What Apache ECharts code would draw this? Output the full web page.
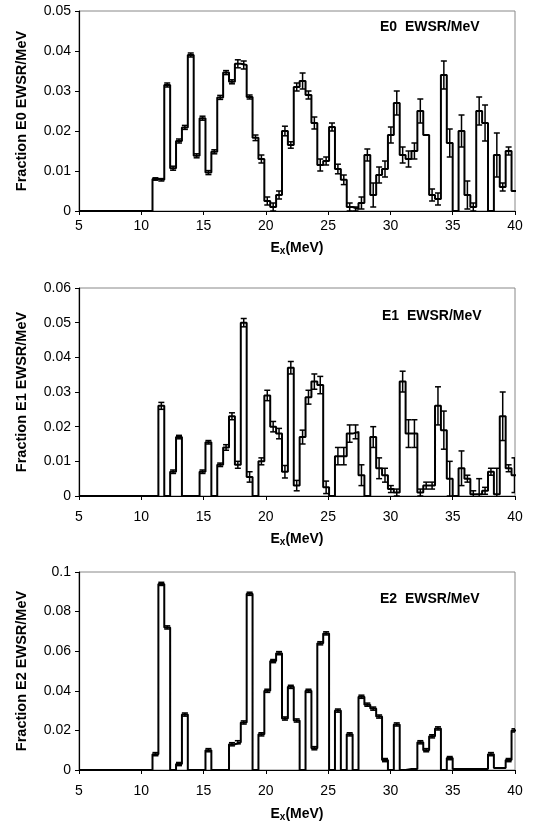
<!DOCTYPE html>
<html><head><meta charset="utf-8">
<script src="https://cdn.jsdelivr.net/npm/echarts/dist/echarts.min.js"></script>
<style>html,body{margin:0;padding:0;background:#fff;}#c{width:535px;height:827px;}</style>
</head><body><div id="c"></div>
<script>
// ---- data ----
const binStart = 10.9;      // MeV, lower edge of first bin
const binWidth = 0.4725;    // MeV
const xTicks = [5, 10, 15, 20, 25, 30, 35, 40];

const e0Values = [0.008,0.0078,0.0315,0.0107,0.0175,0.0209,0.039,0.0138,0.0232,0.0096,
  0.0148,0.0284,0.0346,0.0323,0.0368,0.0365,0.0285,0.0183,0.013,0.0025,
  0.001,0.004,0.020,0.0165,0.031,0.0325,0.029,0.022,0.0115,0.0125,
  0.021,0.0105,0.0078,0.001,0.0005,0.002,0.014,0.004,0.009,0.0105,
  0.019,0.027,0.014,0.013,0.015,0.025,0.019,0.004,0.003,0.034,
  0.017,0,0.020,0.004,0.001,0.025,0.022,0,0.014,0.006,0.015,0.005];
const e0Errors = [0.0003,0.0003,0.0005,0.0005,0.0005,0.0005,0.0005,0.0005,0.0005,0.0005,
  0.0005,0.0005,0.0005,0.0005,0.001,0.001,0.0005,0.0007,0.001,0.001,
  0.001,0.001,0.0012,0.0008,0.001,0.002,0.001,0.0015,0.0015,0.001,
  0.001,0.0012,0.0012,0.001,0.0005,0.0015,0.0015,0.003,0.002,0.002,
  0.002,0.003,0.002,0.002,0.002,0.003,0,0.0015,0.0015,0.0035,
  0.0035,0,0.004,0.0035,0.001,0.0035,0.0045,0,0.0055,0.001,0.001,0];

const e1Values = [0,0.026,0,0.007,0.017,0,0,0,0.007,0.0155,
  0,0.009,0.014,0.023,0.009,0.050,0.0055,0,0.010,0.029,
  0.020,0.018,0.007,0.037,0.003,0.017,0.0285,0.033,0.032,0.0025,
  0,0.0115,0.0115,0.018,0.0185,0.006,0,0.017,0.008,0.006,
  0.002,0.001,0.033,0.018,0.018,0.001,0.003,0.003,0.026,0.019,
  0.005,0,0.008,0.005,0.0005,0.0005,0.0015,0.007,0.0005,0.023,0.008,0.006];
const e1Errors = [0,0.001,0,0.0005,0.0005,0,0,0,0.0005,0.0005,
  0,0.0005,0.0008,0.001,0.001,0.0012,0.0015,0,0.001,0.0015,
  0.0015,0.0015,0.0018,0.0018,0.0015,0.002,0.002,0.0022,0.0025,0.0018,
  0,0.0025,0.0025,0.0025,0.002,0.003,0,0.003,0.003,0.002,
  0.001,0.001,0.003,0.004,0.004,0.001,0.001,0.001,0.0055,0.0055,
  0.005,0,0.005,0.001,0.001,0.0045,0.001,0.001,0.0075,0.007,0.001,0.005];

const e2Values = [0.008,0.094,0.072,0,0.003,0.028,0,0,0,0.010,
  0,0,0,0.013,0.014,0.024,0.089,0,0.018,0.040,
  0.055,0.059,0.026,0.042,0.025,0,0.040,0.011,0.064,0.069,
  0,0.030,0,0.018,0,0.037,0.033,0.031,0.027,0.005,
  0,0.023,0,0.0005,0.0005,0.014,0.010,0.017,0.021,0,
  0.006,0.0005,0.0005,0.0005,0.0005,0.0005,0.0005,0.008,0.001,0.001,0.005,0.020];
const e2Errors = e2Values.map(v => v > 0.002 ? 0.0008 : 0);

const panelLabels = ['E0  EWSR/MeV', 'E1  EWSR/MeV', 'E2  EWSR/MeV'];
const yTitles = ['Fraction E0 EWSR/MeV', 'Fraction E1 EWSR/MeV', 'Fraction E2 EWSR/MeV'];
const yMax = [0.05, 0.06, 0.1];
const yStep = [0.01, 0.01, 0.02];

// ---- layout ----
const grids = [
  {left: 79, top: 11, width: 436, height: 200},
  {left: 79, top: 288, width: 436, height: 208},
  {left: 79, top: 572, width: 436, height: 198}
];
const xLabelMargin = [8, 14, 14];
const xNameGap = [29, 35, 36];
const labelPos = [[380, 20], [382, 309], [380, 592]];

const FONT = '"Liberation Sans", Arial, sans-serif';

function stepData(vals) {
  const d = [[xTicks[0], 0]];
  vals.forEach((v, k) => d.push([binStart + k * binWidth, v]));
  d.push([binStart + vals.length * binWidth, 0]);
  return d;
}
function errData(vals, errs) {
  return vals.map((v, k) => [binStart + (k + 0.5) * binWidth, v, errs[k]]);
}
function renderErr(params, api) {
  const x = api.value(0), y = api.value(1), e = api.value(2);
  if (!e) return null;
  const t = api.coord([x, y + e]);
  const b = api.coord([x, y - e]);
  const hw = 3;
  const st = {stroke: '#000', lineWidth: 1.5};
  return {type: 'group', children: [
    {type: 'line', shape: {x1: t[0], y1: t[1], x2: b[0], y2: b[1]}, style: st},
    {type: 'line', shape: {x1: t[0] - hw, y1: t[1], x2: t[0] + hw, y2: t[1]}, style: st},
    {type: 'line', shape: {x1: b[0] - hw, y1: b[1], x2: b[0] + hw, y2: b[1]}, style: st}
  ]};
}

const allVals = [e0Values, e1Values, e2Values];
const allErrs = [e0Errors, e1Errors, e2Errors];

const option = {
  animation: false,
  backgroundColor: '#fff',
  grid: grids.map(g => Object.assign({show: true, borderColor: '#888', borderWidth: 1, backgroundColor: 'transparent'}, g)),
  xAxis: grids.map((g, i) => ({
    type: 'value', gridIndex: i, min: xTicks[0], max: xTicks[xTicks.length - 1], interval: 5,
    splitLine: {show: false},
    axisLine: {lineStyle: {color: '#000', width: 1.2}},
    axisTick: {show: true, length: 4, lineStyle: {color: '#000'}},
    axisLabel: {color: '#000', fontSize: 14, fontFamily: FONT, margin: xLabelMargin[i]},
    name: '{b|E}{s|x}{b|(MeV)}', nameLocation: 'middle', nameGap: xNameGap[i],
    nameTextStyle: {rich: {
      b: {fontFamily: FONT, fontWeight: 'bold', fontSize: 14, color: '#000'},
      s: {fontFamily: FONT, fontWeight: 'bold', fontSize: 10, color: '#000', verticalAlign: 'bottom', padding: [6, 0, 0, 0]}
    }}
  })),
  yAxis: grids.map((g, i) => ({
    type: 'value', gridIndex: i, min: 0, max: yMax[i], interval: yStep[i],
    splitLine: {show: false},
    axisLine: {show: true, lineStyle: {color: '#000', width: 1.2}},
    axisTick: {show: true, length: 4, lineStyle: {color: '#000'}},
    axisLabel: {color: '#000', fontSize: 14, fontFamily: FONT, margin: 8},
    name: yTitles[i], nameLocation: 'middle', nameGap: 50, nameRotate: 90,
    nameTextStyle: {fontFamily: FONT, fontWeight: 'bold', fontSize: 14.5, color: '#000'}
  })),
  graphic: labelPos.map((p, i) => ({
    type: 'text', left: p[0], top: p[1],
    style: {text: panelLabels[i], font: 'bold 14px ' + FONT, fill: '#000'}
  })),
  series: []
};
allVals.forEach((vals, i) => {
  option.series.push({
    type: 'line', xAxisIndex: i, yAxisIndex: i, step: 'end', symbol: 'none',
    data: stepData(vals), clip: true,
    lineStyle: {color: '#000', width: 2}
  });
  option.series.push({
    type: 'custom', xAxisIndex: i, yAxisIndex: i, clip: true,
    renderItem: renderErr, encode: {x: 0, y: 1},
    data: errData(vals, allErrs[i])
  });
});

const chart = echarts.init(document.getElementById('c'), null, {renderer: 'canvas'});
chart.setOption(option);
</script>
</body></html>
